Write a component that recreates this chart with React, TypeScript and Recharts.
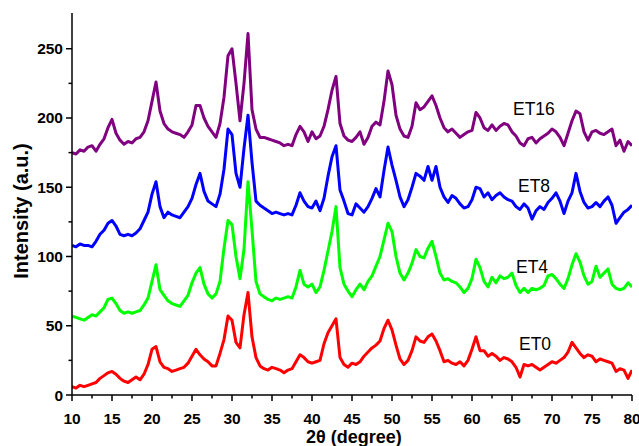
import { LineChart, Line, XAxis, YAxis } from "recharts";

// 2θ sampling grid (degrees)
const angles = [
  10, 10.5, 11, 11.5, 12, 12.5, 13, 13.5, 14, 14.5, 15, 15.5, 16, 16.5, 17, 17.5, 18, 18.5, 19, 19.5,
  20, 20.5, 21, 21.5, 22, 22.5, 23, 23.5, 24, 24.5, 25, 25.5, 26, 26.5, 27, 27.5, 28, 28.5, 29, 29.5,
  30, 30.5, 31, 31.5, 32, 32.5, 33, 33.5, 34, 34.5, 35, 35.5, 36, 36.5, 37, 37.5, 38, 38.5, 39, 39.5,
  40, 40.5, 41, 41.5, 42, 42.5, 43, 43.5, 44, 44.5, 45, 45.5, 46, 46.5, 47, 47.5, 48, 48.5, 49, 49.5,
  50, 50.5, 51, 51.5, 52, 52.5, 53, 53.5, 54, 54.5, 55, 55.5, 56, 56.5, 57, 57.5, 58, 58.5, 59, 59.5,
  60, 60.5, 61, 61.5, 62, 62.5, 63, 63.5, 64, 64.5, 65, 65.5, 66, 66.5, 67, 67.5, 68, 68.5, 69, 69.5,
  70, 70.5, 71, 71.5, 72, 72.5, 73, 73.5, 74, 74.5, 75, 75.5, 76, 76.5, 77, 77.5, 78, 78.5, 79, 79.5,
  80,
];

const et0 = [
  6, 5, 7, 6, 7, 8, 9, 12, 14, 16, 17, 15, 12, 10, 9, 11, 13, 11, 15, 22,
  33, 35, 24, 20, 19, 17, 18, 19, 20, 23, 28, 33, 29, 26, 24, 21, 21, 30, 40, 57,
  54, 38, 34, 58, 74, 42, 27, 21, 19, 18, 20, 19, 18, 16, 18, 19, 24, 29, 27, 24,
  23, 24, 25, 37, 45, 50, 55, 27, 22, 20, 23, 22, 24, 28, 31, 34, 36, 39, 48, 54,
  47, 36, 26, 22, 25, 32, 42, 39, 38, 42, 44, 39, 32, 24, 25, 23, 22, 24, 21, 25,
  33, 42, 32, 32, 28, 30, 28, 25, 27, 26, 24, 20, 13, 22, 21, 22, 20, 18, 20, 22,
  24, 23, 25, 27, 31, 38, 34, 30, 27, 29, 28, 24, 26, 25, 24, 23, 17, 19, 18, 12,
  18,
];

const et4 = [
  57, 56, 55, 54, 56, 58, 57, 60, 63, 69, 70, 66, 61, 59, 60, 59, 60, 61, 65, 70,
  82, 94, 76, 72, 68, 66, 65, 64, 68, 72, 81, 88, 92, 80, 73, 70, 73, 82, 106, 126,
  123, 100, 84, 105, 154, 119, 82, 73, 71, 69, 68, 70, 69, 70, 71, 70, 78, 90, 80, 78,
  80, 74, 78, 90, 104, 118, 136, 92, 80, 75, 71, 76, 80, 76, 82, 86, 93, 100, 112, 124,
  118, 100, 88, 83, 88, 95, 105, 100, 99, 106, 111, 100, 88, 83, 84, 82, 81, 78, 74, 77,
  84, 98, 92, 82, 78, 85, 81, 86, 84, 85, 88, 79, 74, 77, 74, 77, 76, 77, 79, 86,
  87, 84, 80, 77, 84, 94, 102, 96, 86, 80, 82, 93, 85, 88, 91, 80, 77, 76, 77, 81,
  78,
];

const et8 = [
  108, 107, 109, 108, 108, 107, 111, 116, 119, 124, 126, 122, 116, 115, 116, 115, 117, 120, 126, 132,
  145, 154, 136, 128, 132, 130, 129, 128, 132, 136, 142, 152, 160, 147, 140, 138, 136, 145, 163, 192,
  188, 160, 150, 178, 202, 168, 140, 137, 135, 133, 131, 132, 131, 130, 131, 130, 137, 146, 140, 136,
  135, 140, 133, 142, 158, 172, 180, 148, 140, 131, 130, 138, 135, 132, 136, 142, 149, 143, 162, 179,
  166, 155, 143, 136, 141, 150, 160, 158, 155, 165, 155, 165, 150, 143, 139, 144, 142, 138, 135, 136,
  141, 150, 149, 143, 146, 141, 144, 146, 143, 141, 140, 136, 134, 138, 135, 127, 133, 136, 134, 139,
  142, 146, 140, 131, 140, 146, 160, 147, 139, 135, 136, 139, 136, 140, 143, 137, 124, 128, 132, 134,
  137,
];

const et16 = [
  175, 174, 177, 176, 179, 180, 176, 181, 185, 193, 199, 189, 184, 181, 183, 182, 185, 186, 190, 198,
  212, 226, 205, 196, 192, 190, 189, 188, 186, 190, 195, 209, 209, 200, 194, 190, 186, 196, 215, 245,
  250, 225, 198, 225, 261, 206, 192, 186, 186, 185, 184, 183, 182, 180, 181, 180, 188, 194, 190, 183,
  190, 185, 187, 194, 206, 220, 230, 196, 187, 184, 183, 186, 190, 181, 186, 194, 197, 195, 212, 234,
  224, 202, 192, 187, 186, 194, 211, 206, 208, 212, 216, 209, 200, 193, 190, 192, 189, 186, 188, 190,
  191, 204, 200, 193, 191, 195, 191, 194, 196, 195, 190, 187, 182, 180, 185, 186, 182, 185, 187, 189,
  192, 190, 186, 180, 189, 198, 205, 203, 190, 184, 190, 191, 189, 188, 190, 192, 180, 184, 176, 183,
  180,
];

const xTicks = [10, 12.5, 15, 17.5, 20, 22.5, 25, 27.5, 30, 32.5, 35, 37.5, 40, 42.5, 45, 47.5, 50, 52.5, 55, 57.5, 60, 62.5, 65, 67.5, 70, 72.5, 75, 77.5, 80];
const yTicks = [0, 25, 50, 75, 100, 125, 150, 175, 200, 225, 250, 275];
const xLabelStep = 5;
const yLabelStep = 50;

const seriesNames = ["ET0", "ET4", "ET8", "ET16"];
const seriesColors = ["#ff0000", "#00ff00", "#0000ff", "#800080"];

const rows = angles.map((a, i) => ({
  angle: a,
  ET0: et0[i],
  ET4: et4[i],
  ET8: et8[i],
  ET16: et16[i],
}));

const FONT = "'Liberation Sans', Arial, Helvetica, sans-serif";

const BottomTick = (props: any) => {
  const { x, y, payload } = props;
  const major = payload.value % xLabelStep === 0;
  return (
    <g>
      <line x1={x} x2={x} y1={y} y2={y + (major ? 6 : 3.5)} stroke="#000" strokeWidth={1.5} />
      {major && (
        <text x={x} y={y + 29} textAnchor="middle" fontFamily={FONT} fontWeight="bold" fontSize={15.5} fill="#000">
          {payload.value}
        </text>
      )}
    </g>
  );
};

const TopTick = (props: any) => {
  const { x, y, payload } = props;
  const major = payload.value % xLabelStep === 0;
  return <line x1={x} x2={x} y1={y} y2={y + (major ? 6 : 3)} stroke="#000" strokeWidth={1.5} />;
};

const LeftTick = (props: any) => {
  const { x, y, payload } = props;
  const major = payload.value % yLabelStep === 0;
  if (payload.value > 250) return <g />;
  return (
    <g>
      <line x1={x} x2={x - (major ? 6 : 3.5)} y1={y} y2={y} stroke="#000" strokeWidth={1.5} />
      {major && (
        <text x={63} y={y + 5.5} textAnchor="end" fontFamily={FONT} fontWeight="bold" fontSize={15.5} fill="#000">
          {payload.value}
        </text>
      )}
    </g>
  );
};

const RightTick = (props: any) => {
  const { x, y, payload } = props;
  const major = payload.value % yLabelStep === 0;
  if (payload.value > 250) return <g />;
  return <line x1={x} x2={x - (major ? 6 : 3)} y1={y} y2={y} stroke="#000" strokeWidth={1.5} />;
};

const seriesLabels = [
  { name: "ET16", x: 513, y: 115 },
  { name: "ET8", x: 518, y: 192 },
  { name: "ET4", x: 516, y: 273 },
  { name: "ET0", x: 519, y: 350 },
];

export default function App() {
  return (
    <div style={{ position: "fixed", left: 0, top: 0, width: 639, height: 446, background: "#fff" }}>
      <LineChart width={639} height={446} data={rows} margin={{ top: 13, right: 7, left: 0, bottom: 0 }}>
        <XAxis
          dataKey="angle"
          type="number"
          domain={[10, 80]}
          ticks={xTicks}
          interval={0}
          height={51}
          tickSize={0}
          tickMargin={0}
          tickLine={false}
          tick={<BottomTick />}
          axisLine={{ stroke: "#000", strokeWidth: 1.5 }}
          allowDataOverflow
        />
        <XAxis
          xAxisId="top"
          dataKey="angle"
          orientation="top"
          type="number"
          domain={[10, 80]}
          ticks={xTicks}
          interval={0}
          height={0}
          tickSize={0}
          tickMargin={0}
          tickLine={false}
          tick={<TopTick />}
          axisLine={{ stroke: "#000", strokeWidth: 1.5 }}
          allowDataOverflow
        />
        <YAxis
          type="number"
          domain={[0, 275.8]}
          ticks={yTicks}
          interval={0}
          width={72}
          tickSize={0}
          tickMargin={0}
          tickLine={false}
          tick={<LeftTick />}
          axisLine={{ stroke: "#000", strokeWidth: 1.5 }}
          allowDataOverflow
        />
        <YAxis
          yAxisId="right"
          orientation="right"
          type="number"
          domain={[0, 275.8]}
          ticks={yTicks}
          interval={0}
          width={0}
          tickSize={0}
          tickMargin={0}
          tickLine={false}
          tick={<RightTick />}
          axisLine={{ stroke: "#000", strokeWidth: 1.5 }}
          allowDataOverflow
        />
        {seriesNames.map((name, i) => (
          <Line
            key={name}
            dataKey={name}
            type="linear"
            stroke={seriesColors[i]}
            strokeWidth={3}
            strokeLinejoin="round"
            dot={false}
            isAnimationActive={false}
          />
        ))}
      </LineChart>
      <svg width={639} height={446} style={{ position: "absolute", left: 0, top: 0, pointerEvents: "none" }}>
        {seriesLabels.map((l) => (
          <text key={l.name} x={l.x} y={l.y} fontFamily={FONT} fontSize={17.5} fill="#000">
            {l.name}
          </text>
        ))}
        <text x={354} y={443} textAnchor="middle" fontFamily={FONT} fontWeight="bold" fontSize={18} fill="#000">
          2θ (degree)
        </text>
        <text
          x={0}
          y={0}
          transform="translate(28,211) rotate(-90)"
          textAnchor="middle"
          fontFamily={FONT}
          fontWeight="bold"
          fontSize={20}
          fill="#000"
        >
          Intensity (a.u.)
        </text>
      </svg>
    </div>
  );
}
